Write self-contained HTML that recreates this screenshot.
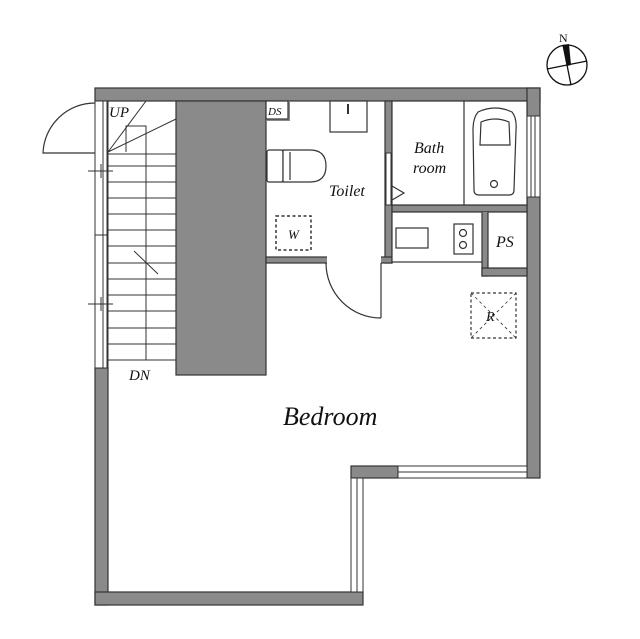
<!DOCTYPE html>
<html><head><meta charset="utf-8"><style>
html,body{margin:0;padding:0;background:#fff;width:640px;height:639px;overflow:hidden}
svg{display:block}
text{font-family:"Liberation Serif",serif;font-style:italic;fill:#111}
</style></head><body>
<svg width="640" height="639" viewBox="0 0 640 639" xmlns="http://www.w3.org/2000/svg">
<g fill="#8a8a8a" stroke="#333" stroke-width="1.2">
  <rect x="95" y="88" width="445" height="13"/>
  <rect x="527" y="88" width="13" height="390"/>
  <rect x="95" y="368" width="13" height="237"/>
  <rect x="95" y="592" width="268" height="13"/>
  <rect x="351" y="466" width="47" height="12"/>
  <rect x="176" y="101" width="90" height="274"/>
  <rect x="266" y="101" width="24" height="20" stroke="none"/>
  <rect x="385" y="101" width="7" height="162"/>
  <rect x="266" y="257" width="126" height="6"/>
  <rect x="392" y="205" width="135" height="7"/>
  <rect x="482" y="212" width="6" height="64"/>
  <rect x="482" y="268" width="45" height="8"/>
</g>
<rect x="386" y="153" width="5" height="52" fill="#fff" stroke="#333" stroke-width="1"/>
<rect x="327" y="256" width="54" height="8" fill="#fff"/>
<rect x="482" y="212" width="6" height="50" fill="#8a8a8a"/>
<g fill="#fff" stroke="#333" stroke-width="1.2">
  <rect x="266" y="101" width="22" height="18"/>
  <rect x="392" y="101" width="135" height="104"/>
  <line x1="464" y1="101" x2="464" y2="205"/>
  <rect x="392" y="212" width="90" height="50"/>
  <rect x="488" y="212" width="39" height="56"/>
  <rect x="330" y="101" width="37" height="31"/>
  <rect x="267" y="150" width="16" height="32" rx="2"/>
  <path d="M283 150 L310 150 Q326 150 326 166 Q326 182 310 182 L283 182 Z"/>
  <path d="M290 152 L290 180" />
  <path d="M478 112 Q495 104 512 112 Q517 118 516 130 L514 190 Q514 195 509 195 L479 195 Q474 195 474 190 L473 130 Q473 118 478 112 Z"/>
  <path d="M481 122 Q495 116 509 122 L510 145 L480 145 Z" fill="none"/>
  <circle cx="494" cy="184" r="3.5"/>
  <rect x="396" y="228" width="32" height="20"/>
  <rect x="454" y="224" width="19" height="30"/>
  <circle cx="463" cy="233" r="3.5"/>
  <circle cx="463" cy="245" r="3.5"/>
  <path d="M392 186 L404 193 L392 200" fill="none"/>
</g>
<line x1="348" y1="104" x2="348" y2="114" stroke="#333" stroke-width="2"/>
<rect x="276" y="216" width="35" height="34" fill="none" stroke="#333" stroke-width="1.5" stroke-dasharray="3,2.5"/>
<rect x="471" y="293" width="45" height="45" fill="none" stroke="#333" stroke-width="1.2" stroke-dasharray="3,2.5"/>
<line x1="471" y1="293" x2="516" y2="338" stroke="#333" stroke-width="0.8" stroke-dasharray="3,3"/>
<line x1="516" y1="293" x2="471" y2="338" stroke="#333" stroke-width="0.8" stroke-dasharray="3,3"/>
<line x1="381" y1="263" x2="381" y2="318" stroke="#333" stroke-width="1.2"/>
<path d="M326 263 A55 55 0 0 0 381 318" fill="none" stroke="#333" stroke-width="1.2"/>
<g fill="#fff" stroke="#333" stroke-width="1">
  <rect x="95" y="101" width="13" height="134"/>
  <rect x="95" y="235" width="13" height="133"/>
  <line x1="103" y1="101" x2="103" y2="368"/>
  <line x1="107" y1="101" x2="107" y2="368"/>
</g>
<g stroke="#333" stroke-width="1">
  <line x1="88" y1="171" x2="113" y2="171"/><line x1="101" y1="164" x2="101" y2="178"/>
  <line x1="88" y1="304" x2="113" y2="304"/><line x1="101" y1="297" x2="101" y2="311"/>
</g>
<path d="M95 103 A52 52 0 0 0 43 153 L95 153" fill="none" stroke="#333" stroke-width="1.2"/>
<g stroke="#333" stroke-width="1" fill="none">
  <rect x="108" y="101" width="68" height="259"/>
  <path d="M126 152 L126 126 L146 126 L146 360"/>
  <line x1="108" y1="152" x2="146" y2="101"/>
  <line x1="108" y1="152" x2="176" y2="119"/>
  <line x1="108" y1="154" x2="176" y2="154"/>
  <line x1="108" y1="166" x2="176" y2="166"/>
  <line x1="108" y1="182" x2="176" y2="182"/>
  <line x1="108" y1="198" x2="176" y2="198"/>
  <line x1="108" y1="214" x2="176" y2="214"/>
  <line x1="108" y1="230" x2="176" y2="230"/>
  <line x1="108" y1="246" x2="176" y2="246"/>
  <line x1="108" y1="263" x2="176" y2="263"/>
  <line x1="108" y1="279" x2="176" y2="279"/>
  <line x1="108" y1="295" x2="176" y2="295"/>
  <line x1="108" y1="311" x2="176" y2="311"/>
  <line x1="108" y1="328" x2="176" y2="328"/>
  <line x1="108" y1="344" x2="176" y2="344"/>
  <line x1="134" y1="251" x2="158" y2="274"/>
</g>
<g fill="#fff" stroke="#333" stroke-width="1">
  <rect x="527" y="116" width="13" height="81"/>
  <line x1="531" y1="116" x2="531" y2="197"/>
  <line x1="535" y1="116" x2="535" y2="197"/>
</g>
<g fill="#fff" stroke="#333" stroke-width="1">
  <rect x="398" y="466" width="129" height="12"/>
  <line x1="398" y1="472" x2="527" y2="472"/>
</g>
<g fill="#fff" stroke="#333" stroke-width="1">
  <rect x="351" y="478" width="12" height="114"/>
  <line x1="357" y1="478" x2="357" y2="592"/>
</g>
<g stroke="#111" stroke-width="1.3" fill="none">
  <circle cx="567" cy="65" r="20"/>
  <line x1="563" y1="45" x2="571" y2="85"/>
  <line x1="547" y1="69" x2="587" y2="61"/>
</g>
<path d="M563 45 L569 44 L571 65 L567 66 Z" fill="#111"/>
<text x="559" y="42" font-size="12" style="font-style:normal">N</text>
<text x="109" y="117" font-size="15">UP</text>
<text x="129" y="380" font-size="15">DN</text>
<text x="268" y="115" font-size="11">DS</text>
<text x="329" y="196" font-size="16">Toilet</text>
<text x="288" y="239" font-size="13">W</text>
<text x="414" y="153" font-size="16">Bath</text>
<text x="413" y="173" font-size="16">room</text>
<text x="496" y="247" font-size="16">PS</text>
<text x="486" y="321" font-size="14">R</text>
<text x="283" y="425" font-size="26">Bedroom</text>
</svg>
</body></html>
